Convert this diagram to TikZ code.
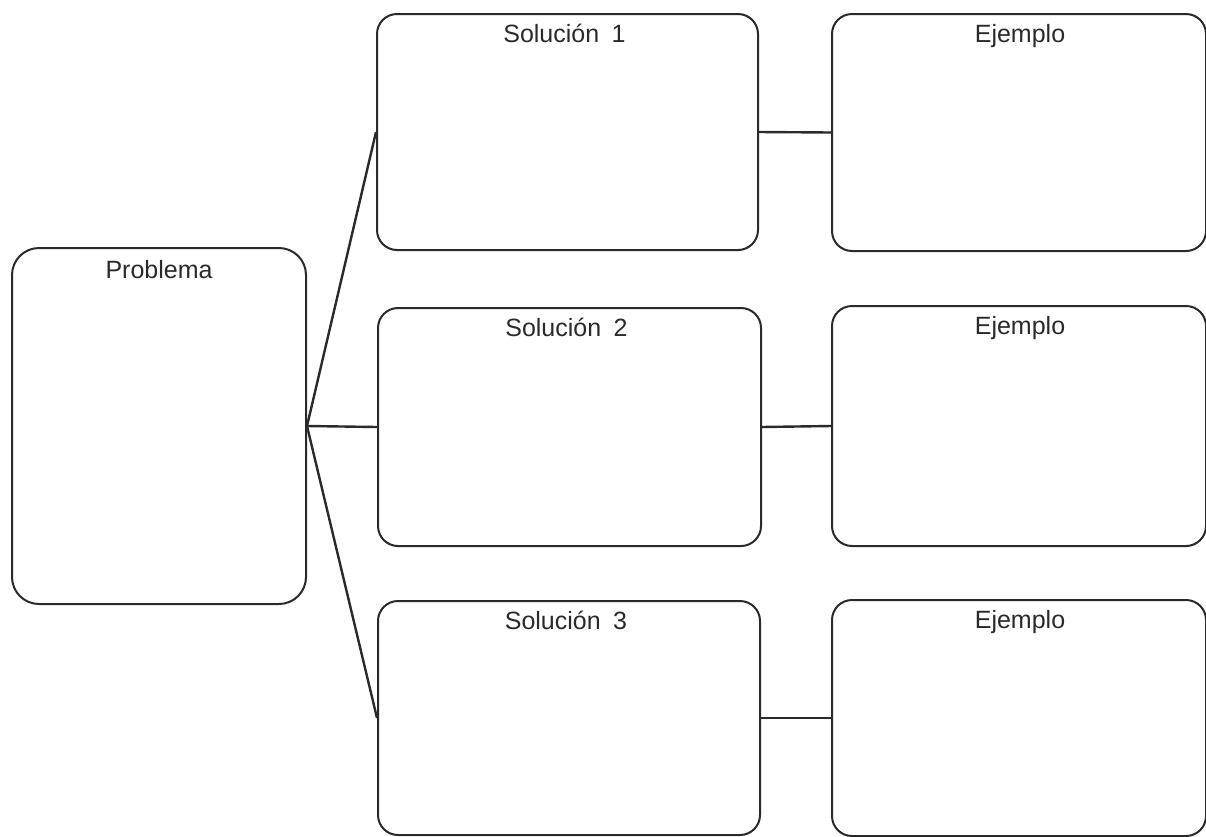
\documentclass[tikz,border=0pt]{standalone}
\usepackage{fontspec}
\setmainfont{Liberation Sans}
\definecolor{ink}{HTML}{2A2A2A}
\begin{document}
\begin{tikzpicture}[x=1pt,y=-1pt,
  box/.style={draw=ink,line width=2pt,rounded corners=20pt,fill=white,inner sep=0pt},
  lbl/.style={anchor=base,text=ink,font=\fontsize{25}{29}\selectfont,inner sep=0pt},
  conn/.style={draw=ink,line width=2.4pt}]
\useasboundingbox[fill=white] (0,0) rectangle (1206,836);
% boxes
\node[box,rounded corners=27pt,minimum width=294pt,minimum height=356pt,anchor=north west] (p) at (11,247) {};
\node[box,minimum width=381pt,minimum height=236pt,anchor=north west] (s1) at (376,13) {};
\node[box,minimum width=383pt,minimum height=238pt,anchor=north west] (s2) at (377,307) {};
\node[box,minimum width=382pt,minimum height=234pt,anchor=north west] (s3) at (377,600) {};
\node[box,minimum width=374pt,minimum height=237pt,anchor=north west] (e1) at (831,13) {};
\node[box,minimum width=374pt,minimum height=240pt,anchor=north west] (e2) at (831,305) {};
\node[box,minimum width=374pt,minimum height=236pt,anchor=north west] (e3) at (831,599) {};
% labels
\node[lbl] (pt) at ([yshift=-31pt]p.north) {Problema};
\node[lbl] (s1t) at ([yshift=-29pt,xshift=-3pt]s1.north) {Solución\hspace{0.5em}1};
\node[lbl] (s2t) at ([yshift=-29pt,xshift=-3pt]s2.north) {Solución\hspace{0.5em}2};
\node[lbl] (s3t) at ([yshift=-29pt,xshift=-3pt]s3.north) {Solución\hspace{0.5em}3};
\node[lbl] (e1t) at ([yshift=-29pt,xshift=1pt]e1.north) {Ejemplo};
\node[lbl] (e2t) at ([yshift=-29pt,xshift=1pt]e2.north) {Ejemplo};
\node[lbl] (e3t) at ([yshift=-29pt,xshift=1pt]e3.north) {Ejemplo};
% connectors
\draw[conn] (p.east) -- (s1.west);
\draw[conn] (p.east) -- (s2.west);
\draw[conn] (p.east) -- (s3.west);
\draw[conn] (s1.east) -- (e1.west);
\draw[conn] (s2.east) -- (e2.west);
\draw[conn] (s3.east) -- (e3.west);
\end{tikzpicture}
\end{document}
